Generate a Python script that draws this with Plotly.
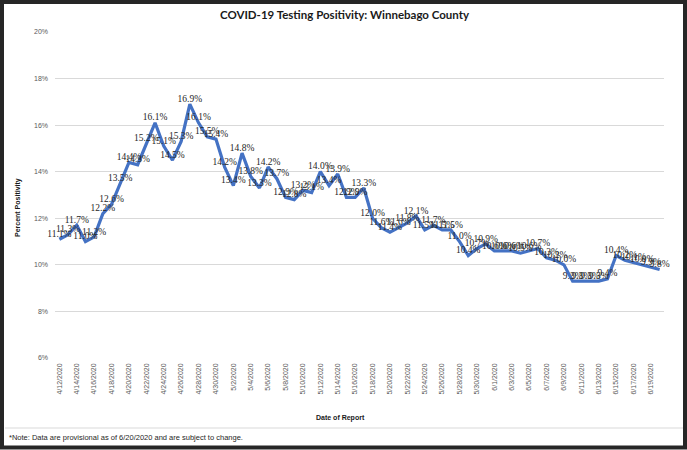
import plotly.graph_objects as go

W, H = 687, 450

dates = [f"4/{d}/2020" for d in range(12, 31)] + [f"5/{d}/2020" for d in range(1, 32)] + [f"6/{d}/2020" for d in range(1, 21)]

positivity = [
    11.1, 11.3, 11.7, 11.0, 11.2, 12.2, 12.6, 13.5, 14.4, 14.3,
    15.2, 16.1, 15.1, 14.5, 15.3, 16.9, 16.1, 15.5, 15.4, 14.2,
    13.4, 14.8, 13.8, 13.3, 14.2, 13.7, 12.9, 12.8, 13.2, 13.1,
    14.0, 13.4, 13.9, 12.9, 12.9, 13.3, 12.0, 11.6, 11.4, 11.6,
    11.8, 12.1, 11.5, 11.7, 11.5, 11.5, 11.0, 10.4, 10.7, 10.9,
    10.6, 10.6, 10.6, 10.5, 10.6, 10.7, 10.3, 10.2, 10.0, 9.3,
    9.3, 9.3, 9.3, 9.4, 10.4, 10.2, 10.1, 10.0, 9.9, 9.8,
]

tick_dates = dates[::2]
y_ticks = [6, 8, 10, 12, 14, 16, 18, 20]
y_tick_text = [f"{v}%" for v in y_ticks]
labels = [f"{v:.1f}%" for v in positivity]

fig = go.Figure()
fig.add_trace(go.Scatter(
    x=dates, y=positivity, mode="lines+text",
    text=labels, textposition="top center",
    textfont=dict(family="Liberation Serif", size=9.5, color="#262626"),
    line=dict(color="#4472C4", width=3.2),
    cliponaxis=False, hoverinfo="skip",
))

px = lambda x: x / W
py = lambda y: 1 - y / H

fig.update_layout(
    width=W, height=H,
    margin=dict(l=0, r=0, t=0, b=0),
    paper_bgcolor="white", plot_bgcolor="white",
    showlegend=False,
    xaxis=dict(
        domain=[px(55), px(664)], type="category",
        categoryorder="array", categoryarray=dates,
        range=[-0.5, len(dates) - 0.5],
        tickmode="array", tickvals=tick_dates, ticktext=tick_dates,
        tickangle=-90, tickfont=dict(family="Liberation Sans", size=7, color="#595959"),
        showgrid=False, showline=False, zeroline=False, automargin=False,
        ticks="", ticklabelstandoff=3,
    ),
    yaxis=dict(
        domain=[py(358), py(32)], range=[6, 20],
        tickmode="array", tickvals=y_ticks, ticktext=y_tick_text,
        tickfont=dict(family="Liberation Sans", size=7, color="#595959"),
        showgrid=True, gridcolor="#d9d9d9", gridwidth=1,
        zeroline=False, showline=False, automargin=False, ticks="",
        ticklabelstandoff=6,
    ),
    annotations=[
        dict(text="<b>COVID-19 Testing Positivity: Winnebago County</b>",
             x=px(345), y=py(15), xref="paper", yref="paper", showarrow=False,
             xanchor="center", yanchor="middle",
             font=dict(family="Lato", size=11.5, color="#1a1a1a")),
        dict(text="<b>Percent Positivity</b>", textangle=-90,
             x=px(18), y=py(208), xref="paper", yref="paper", showarrow=False,
             xanchor="center", yanchor="middle",
             font=dict(family="Liberation Sans", size=7, color="#1a1a1a")),
        dict(text="<b>Date of Report</b>",
             x=px(340), y=py(418), xref="paper", yref="paper", showarrow=False,
             xanchor="center", yanchor="middle",
             font=dict(family="Liberation Sans", size=7, color="#1a1a1a")),
        dict(text="*Note: Data are provisional as of 6/20/2020 and are subject to change.",
             x=px(7), y=py(437), xref="paper", yref="paper", showarrow=False,
             xanchor="left", yanchor="middle",
             font=dict(family="Liberation Sans", size=7.5, color="#262626")),
    ],
    shapes=[
        dict(type="line", xref="paper", yref="paper", x0=px(5), x1=px(685), y0=py(428), y1=py(428),
             line=dict(color="#d9d9d9", width=1)),
        dict(type="rect", xref="paper", yref="paper", x0=px(2), x1=px(685), y0=py(2), y1=py(447.5),
             line=dict(color="#262626", width=4)),
    ],
)

fig.write_html("out.html", config={"displayModeBar": False},
               post_script="document.body.style.margin='0';document.body.style.overflow='hidden';")
